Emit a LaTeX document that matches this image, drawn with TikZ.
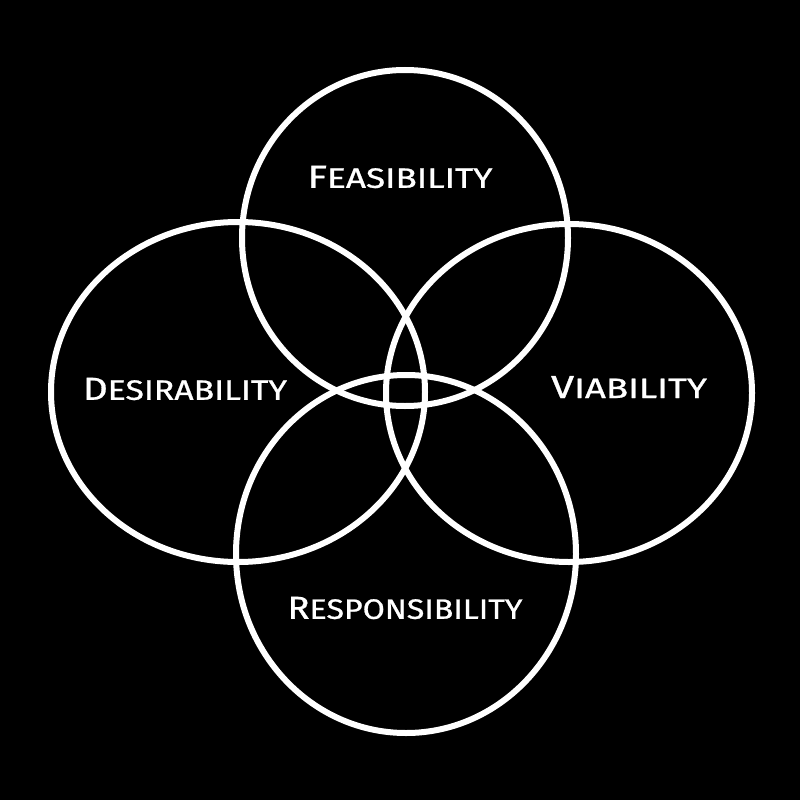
\documentclass[tikz,border=0pt]{standalone}
\usepackage{fontspec}
\usepackage{graphicx}
\setmainfont{Fira Sans}
\newfontfamily\lblfont[FakeBold=0.8]{Fira Sans}
\newcommand{\lblword}[3]{\resizebox{#1}{22pt}{\lblfont\fontsize{33}{36}\selectfont #2\fontsize{29}{32}\selectfont #3}}
\begin{document}
\begin{tikzpicture}[x=1pt,y=-1pt,
  ring/.style={draw=white,line width=6pt},
  lbl/.style={text=white,inner sep=0pt,anchor=center}]
\fill[black] (0,0) rectangle (800,800);
\useasboundingbox (0,0) rectangle (800,800);
\draw[ring] (405,238) ellipse [x radius=163, y radius=168];
\draw[ring] (238,392) ellipse [x radius=187, y radius=170];
\draw[ring] (569,393) ellipse [x radius=183, y radius=169];
\draw[ring] (406,554) ellipse [x radius=170, y radius=179];
\node[lbl] (fea) at (400,177) {\lblword{185pt}{F}{EASIBILITY}};
\node[lbl] (des) at (185,389) {\lblword{204pt}{D}{ESIRABILITY}};
\node[lbl] (via) at (629,387) {\lblword{156pt}{V}{IABILITY}};
\node[lbl] (res) at (405,608) {\lblword{235pt}{R}{ESPONSIBILITY}};
\end{tikzpicture}
\end{document}
